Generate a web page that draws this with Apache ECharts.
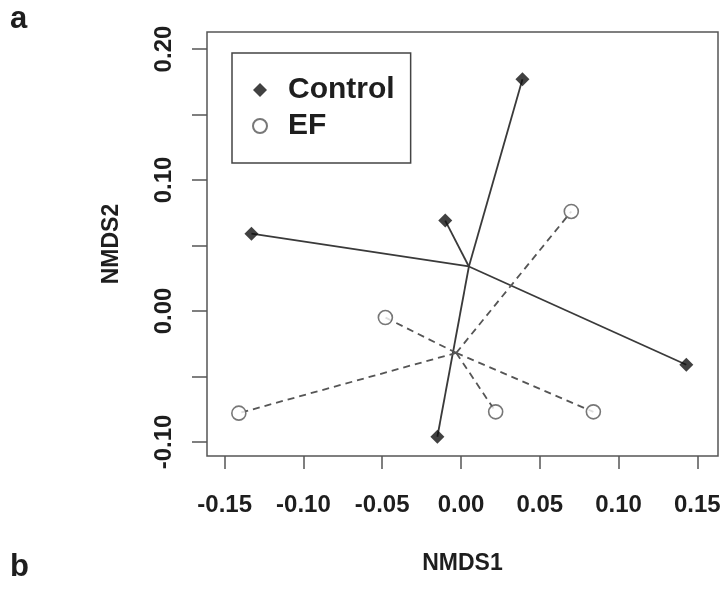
<!DOCTYPE html>
<html>
<head>
<meta charset="utf-8">
<script src="https://cdn.jsdelivr.net/npm/echarts@6/dist/echarts.min.js"></script>
<style>
  html, body { margin: 0; padding: 0; background: #fff; }
  #chart { width: 726px; height: 595px; }
</style>
</head>
<body>
<div id="chart"></div>
<script>
// NMDS scores
const controlX = [0.039, -0.010, -0.133, 0.143, -0.015];
const controlY = [0.177, 0.069, 0.059, -0.041, -0.096];
const efX = [0.070, -0.048, -0.141, 0.022, 0.084];
const efY = [0.076, -0.005, -0.078, -0.077, -0.077];
// spider centres
const controlCentre = [0.005, 0.034];
const efCentre = [-0.003, -0.032];
// axes
const xTicks = [-0.15, -0.10, -0.05, 0.00, 0.05, 0.10, 0.15];
const yTicks = [-0.10, -0.05, 0.00, 0.05, 0.10, 0.15, 0.20];
const yLabels = [-0.10, 0.00, 0.10, 0.20];

const font = 'Liberation Sans, Arial, sans-serif';
const ink = '#1e1e1e';

function pts(xs, ys) {
  return xs.map((x, i) => [x, ys[i]]);
}
function spokes(centre, xs, ys) {
  return xs.map((x, i) => ({ coords: [centre, [x, ys[i]]] }));
}

const chart = echarts.init(document.getElementById('chart'));
chart.setOption({
  animation: false,
  grid: {
    left: 207, top: 32, right: 8, bottom: 139,
    show: true, borderColor: '#555', borderWidth: 1.5
  },
  graphic: [
    { type: 'text', left: 10, top: 4, style: { text: 'a', font: 'bold 31px ' + font, fill: ink } },
    { type: 'text', left: 10, top: 552, style: { text: 'b', font: 'bold 31px ' + font, fill: ink } }
  ],
  legend: {
    left: 232, top: 53,
    orient: 'vertical',
    borderColor: '#444', borderWidth: 1.5,
    padding: [22, 16, 22, 20],
    itemWidth: 14, itemHeight: 14,
    itemGap: 6,
    textStyle: { fontFamily: font, fontWeight: 'bold', fontSize: 30, color: ink, lineHeight: 30, padding: [0, 0, 0, 16] },
    data: ['Control', 'EF']
  },
  xAxis: {
    type: 'value',
    min: -0.1612, max: 0.1631,
    name: 'NMDS1', nameLocation: 'middle', nameGap: 96,
    nameTextStyle: { fontFamily: font, fontWeight: 'bold', fontSize: 23, color: ink },
    axisLine: { show: false, onZero: false },
    splitLine: { show: false },
    axisTick: { show: true, length: 13, customValues: xTicks, lineStyle: { color: '#555', width: 1.5 } },
    axisLabel: {
      customValues: xTicks, margin: 37,
      fontFamily: font, fontWeight: 'bold', fontSize: 24, color: ink,
      formatter: v => v.toFixed(2)
    }
  },
  yAxis: {
    type: 'value',
    min: -0.1107, max: 0.2130,
    name: 'NMDS2', nameLocation: 'middle', nameGap: 84,
    nameTextStyle: { fontFamily: font, fontWeight: 'bold', fontSize: 23, color: ink },
    axisLine: { show: false, onZero: false },
    splitLine: { show: false },
    axisTick: { show: true, length: 15, customValues: yTicks, lineStyle: { color: '#555', width: 1.5 } },
    axisLabel: {
      customValues: yLabels, margin: 31, rotate: 90,
      fontFamily: font, fontWeight: 'bold', fontSize: 24, color: ink,
      formatter: v => v.toFixed(2)
    }
  },
  series: [
    {
      type: 'lines', coordinateSystem: 'cartesian2d',
      data: spokes(controlCentre, controlX, controlY),
      lineStyle: { color: '#3a3a3a', width: 1.8, opacity: 1 },
      z: 1
    },
    {
      type: 'lines', coordinateSystem: 'cartesian2d',
      data: spokes(efCentre, efX, efY),
      lineStyle: { color: '#555', width: 1.8, type: [7, 5], opacity: 1 },
      z: 1
    },
    {
      name: 'Control', type: 'scatter',
      data: pts(controlX, controlY),
      symbol: 'diamond', symbolSize: 14,
      itemStyle: { color: '#111' },
      z: 3
    },
    {
      name: 'EF', type: 'scatter',
      data: pts(efX, efY),
      symbol: 'circle', symbolSize: 14,
      itemStyle: { color: '#fff', borderColor: '#555', borderWidth: 1.6 },
      z: 3
    }
  ]
});
</script>
</body>
</html>
